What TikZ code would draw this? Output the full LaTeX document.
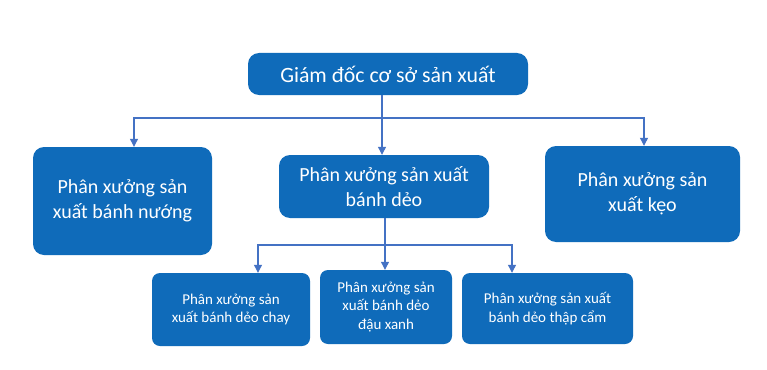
\documentclass[tikz,border=0pt]{standalone}
\usepackage{fontspec}
\setmainfont{Carlito}
\usepackage{xcolor}
\usetikzlibrary{arrows.meta, positioning, calc}
\definecolor{boxblue}{RGB}{15,107,186}
\definecolor{lineblue}{RGB}{68,114,196}
\tikzset{
  unitbox/.style={fill=boxblue, draw=none, text=white, align=center,
    rounded corners=11pt, inner sep=0pt},
  bigtext/.style={font=\fontsize{20}{24.5}\selectfont},
  smalltext/.style={font=\fontsize{15}{18.5}\selectfont, rounded corners=8pt},
  link/.style={draw=lineblue, line width=1.1pt,
    -{Triangle[width=8pt,length=8pt]}}
}
\begin{document}
\begin{tikzpicture}[x=1pt, y=-1pt]
  % canvas in pixel units of the reference, y grows downward
  \useasboundingbox[fill=white] (0,0) rectangle (767,369);
  % level 0
  \node[unitbox, font=\fontsize{21.8}{26}\selectfont,
    minimum width=280pt, minimum height=42pt] (gd) at (388,74)
    {Giám đốc cơ sở sản xuất};
  % level 1
  \node[unitbox, bigtext, minimum width=179pt, minimum height=108pt]
    (bnuong) at (122.5,201) {Phân xưởng sản\\xuất bánh nướng};
  \node[unitbox, bigtext, minimum width=210pt, minimum height=63pt]
    (bdeo) at (384,186.5) {Phân xưởng sản xuất\\bánh dẻo};
  \node[unitbox, bigtext, minimum width=195pt, minimum height=96pt]
    (keo) at (642.5,194) {Phân xưởng sản\\xuất kẹo};
  % level 2
  \node[unitbox, smalltext, minimum width=158pt, minimum height=73pt]
    (chay) at (231,309.5) {Phân xưởng sản\\xuất bánh dẻo chay};
  \node[unitbox, smalltext, minimum width=132pt, minimum height=74pt]
    (dxanh) at (386,307) {Phân xưởng sản\\xuất bánh dẻo\\đậu xanh};
  \node[unitbox, smalltext, minimum width=171pt, minimum height=71pt]
    (tcam) at (547.5,308.5) {Phân xưởng sản xuất\\bánh dẻo thập cẩm};
  % bus lines
  \coordinate (busA) at (382,118);
  \coordinate (busB) at (385,245);
  % connectors
  \draw[link] (gd.south -| busA) -- (bdeo.north -| busA);
  \draw[link] (busA) -| ([xshift=11.5pt]bnuong.north);
  \draw[link] (busA) -| ([xshift=1.5pt]keo.north);
  \draw[link] (bdeo.south -| busB) -- (dxanh.north -| busB);
  \draw[link] (busB) -| ([xshift=27pt]chay.north);
  \draw[link] (busB) -| ([xshift=-35.5pt]tcam.north);
\end{tikzpicture}
\end{document}
